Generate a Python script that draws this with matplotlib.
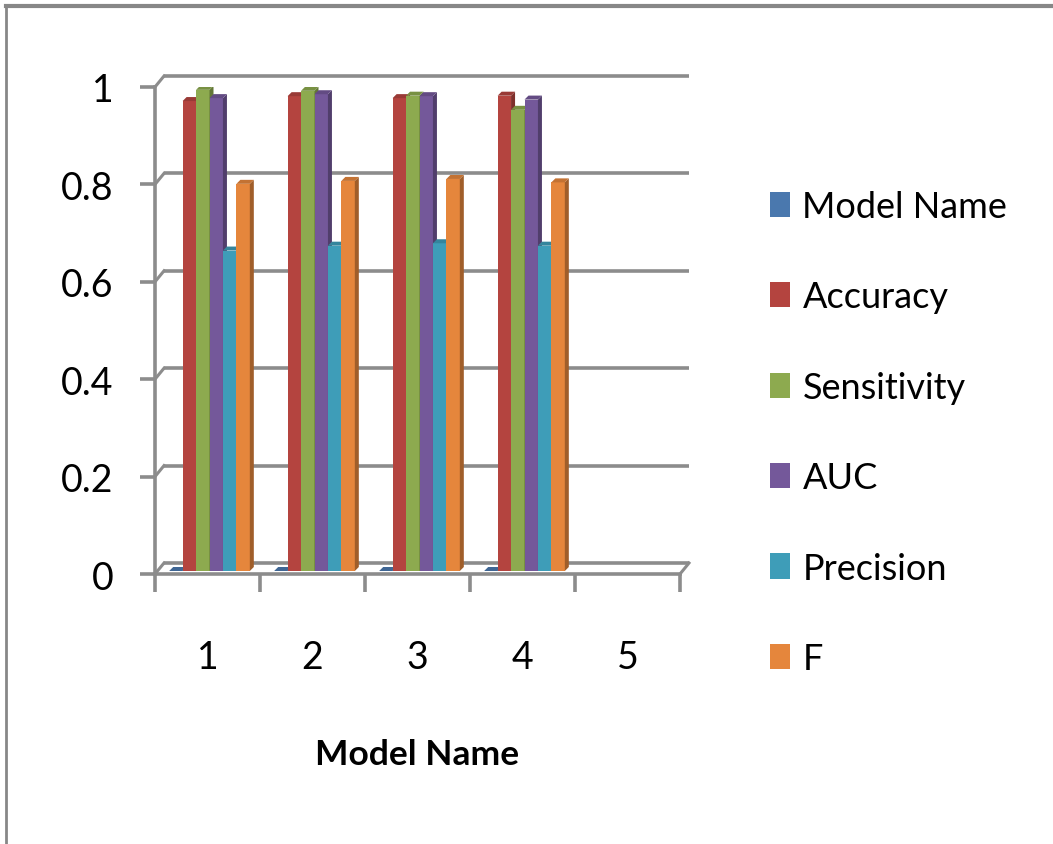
import numpy as np
import matplotlib.pyplot as plt
from matplotlib.patches import Polygon, Patch
from matplotlib.lines import Line2D
from matplotlib.transforms import ScaledTranslation
from matplotlib.colors import to_rgb

plt.rcParams['font.family'] = ['Lato', 'DejaVu Sans']

categories = [1, 2, 3, 4, 5]
series = ["Model Name", "Accuracy", "Sensitivity", "AUC", "Precision", "F"]
model_name = [0.0, 0.0, 0.0, 0.0]
accuracy = [0.965, 0.975, 0.971, 0.976]
sensitivity = [0.988, 0.986, 0.976, 0.947]
auc = [0.971, 0.979, 0.975, 0.968]
precision = [0.658, 0.668, 0.673, 0.668]
f_score = [0.795, 0.801, 0.805, 0.798]
yticks = [0, 0.2, 0.4, 0.6, 0.8, 1]
ytick_labels = ["0", "0.2", "0.4", "0.6", "0.8", "1"]

values = [model_name, accuracy, sensitivity, auc, precision, f_score]
colors = ["#4A78AE", "#B4443F", "#8DAA4F", "#74589A", "#3E9DB8", "#E5863C"]
grid_c = "#8C8C8C"

W, H = 1053, 845
fig = plt.figure(figsize=(W / 100, H / 100), dpi=100)
ax_l, ax_r, ax_b, ax_t = 155, 680, 575, 88
ax = fig.add_axes([ax_l / W, 1 - ax_b / H, (ax_r - ax_l) / W, (ax_b - ax_t) / H])
ax.set_xlim(0.5, 5.5)
ax.set_ylim(0, 1)
px_x = (ax_r - ax_l) / 5.0   # pixels per x unit
px_y = (ax_b - ax_t) / 1.0   # pixels per y unit


def shade(c, f):
    r, g, b = to_rgb(c)
    return (r * f, g * f, b * f)


# back wall gridlines + floor (offset into depth)
wall = ax.transData + ScaledTranslation(9 / 100, 11 / 100, fig.dpi_scale_trans)
for yv in yticks:
    ax.plot([0.5, 5.5], [yv, yv], color=grid_c, lw=2.6, transform=wall,
            clip_on=False, solid_capstyle='butt', zorder=1)
    ax.plot([0.5, 0.5 + 9 / px_x], [yv, yv + 11 / px_y], color=grid_c, lw=2.2,
            clip_on=False, zorder=1)
ax.plot([5.5, 5.5 + 9 / px_x], [0, 11 / px_y], color=grid_c, lw=2.2, clip_on=False, zorder=1)

# 3D-looking bars
n = len(series)
bw = 0.128
dx, dy = 4 / px_x, 4 / px_y
shift = ScaledTranslation(2 / 100, 3 / 100, fig.dpi_scale_trans)
for j, (vals, c) in enumerate(zip(values, colors)):
    xs = np.arange(1, len(vals) + 1) + (j - (n - 1) / 2) * bw
    bars = ax.bar(xs, vals, width=bw, color=c, edgecolor='none', zorder=3 + j * 0.01)
    for rect in bars:
        rect.set_transform(ax.transData + shift)
        x0, w, h = rect.get_x(), rect.get_width(), rect.get_height()
        side = Polygon([(x0 + w, 0), (x0 + w + dx, dy), (x0 + w + dx, h + dy), (x0 + w, h)],
                       closed=True, facecolor=shade(c, 0.7), edgecolor='none',
                       transform=ax.transData + shift, zorder=3 + j * 0.01)
        top = Polygon([(x0, h), (x0 + dx, h + dy), (x0 + w + dx, h + dy), (x0 + w, h)],
                      closed=True, facecolor=shade(c, 0.85), edgecolor='none',
                      transform=ax.transData + shift, zorder=3 + j * 0.01)
        ax.add_patch(side)
        ax.add_patch(top)

# axes styling
for s in ['top', 'right']:
    ax.spines[s].set_visible(False)
for s in ['left', 'bottom']:
    ax.spines[s].set_color(grid_c)
    ax.spines[s].set_linewidth(2.6)
ax.set_yticks(yticks)
ax.set_yticklabels(ytick_labels)
ax.tick_params(axis='y', length=11, width=2.6, color=grid_c, pad=19, labelsize=27)
ax.set_xticks(np.arange(0.5, 6.0, 1.0))
ax.set_xticklabels([])
ax.tick_params(axis='x', which='major', length=13, width=2.6, color=grid_c)
ax.set_xticks(categories, minor=True)
ax.set_xticklabels([str(c) for c in categories], minor=True)
ax.tick_params(axis='x', which='minor', length=0, pad=47, labelsize=27)
ax.patch.set_alpha(0)

fig.text((ax_l + ax_r) / 2 / W, 1 - 755 / H, "Model Name", fontsize=25.5,
         fontweight='bold', ha='center', va='center')

# legend
handles = [Patch(facecolor=c, edgecolor='none') for c in colors]
fig.legend(handles, series, loc='upper left', bbox_to_anchor=(770 / W, 1 - 191 / H),
           frameon=False, fontsize=26, handlelength=0.55, handleheight=0.7,
           handletextpad=0.35, labelspacing=1.59, borderpad=0, borderaxespad=0)

# outer chart border (top and left visible)
fig.add_artist(Line2D([6 / W, 1], [1 - 7 / H, 1 - 7 / H], color="#878787", lw=3,
                      transform=fig.transFigure))
fig.add_artist(Line2D([6 / W, 6 / W], [0, 1 - 7 / H], color="#878787", lw=2,
                      transform=fig.transFigure))

fig.savefig("out.png", dpi=100, facecolor='white')
